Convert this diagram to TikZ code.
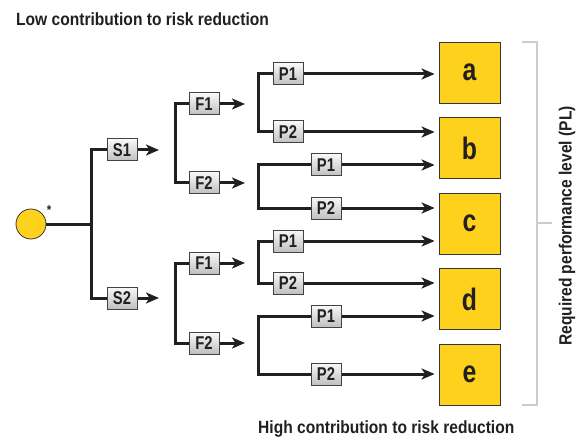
\documentclass[tikz,border=0pt]{standalone}
\usepackage{fontspec}
\setmainfont{Liberation Sans}[FakeStretch=0.88]
\newfontfamily\lblfont{Liberation Sans}[FakeStretch=0.8]
\usetikzlibrary{arrows.meta}
\definecolor{ink}{RGB}{35,31,32}
\definecolor{gold}{RGB}{254,210,28}
\definecolor{bracketgray}{RGB}{204,204,204}
\begin{document}
\begin{tikzpicture}[x=1pt,y=-1pt,
  ln/.style={draw=ink,line width=3pt},
  arr/.style={ln,-{Stealth[length=13pt,width=11pt,inset=3.5pt]}},
  gbox/.style={draw=ink!85,line width=1pt,top color=gray!5,bottom color=gray!50,
     minimum width=30pt,minimum height=22pt,inner sep=0pt,
     font=\lblfont\fontsize{18.5}{18.5}\selectfont\bfseries,text=ink},
  ybox/.style={draw=ink!90,line width=0.8pt,fill=gold,minimum size=61pt,inner sep=0pt,
     font=\lblfont\fontsize{31}{31}\selectfont\bfseries,text=ink},
  title/.style={font=\fontsize{17.7}{17.7}\selectfont\bfseries,text=ink,inner sep=0pt}
]
\useasboundingbox (0,0) rectangle (585,438);

% titles
\node[title,anchor=base west] (low) at (16,26) {Low contribution to risk reduction};
\node[title,anchor=base west] (high) at (258,433) {High contribution to risk reduction};

% result boxes
\node[ybox] (a) at (469.5,72.5) {a};
\node[ybox] (b) at (469.5,148) {b};
\node[ybox] (c) at (469.5,223.5) {c};
\node[ybox] (d) at (469.5,299) {d};
\node[ybox] (e) at (469.5,374.5) {e};

% bracket
\coordinate (bt) at (522,42);
\coordinate (bb) at (522,405);
\coordinate (bm) at (552,223);
\draw[bracketgray,line width=2.5pt] (bt) -- ++(15,0) coordinate (btr) -- (btr |- bb) -- (bb);
\draw[bracketgray,line width=2.5pt] (bm -| btr) -- (bm);
\node[title,rotate=90] (pl) at (567,226) {Required performance level (PL)};

% root
\node[circle,draw=ink!90,line width=0.8pt,fill=gold,minimum size=30pt,inner sep=0pt] (root) at (31,224) {};
\node[font=\fontsize{13}{13}\selectfont\bfseries,text=ink,inner sep=0pt] (star) at (49,210) {*};
\coordinate (j0) at (91,224);
\draw[ln] (root) -- (j0);

% S level
\node[gbox] (s1) at (122,150) {S1};
\node[gbox] (s2) at (122,298) {S2};
\draw[ln] (s1) -| (j0) |- (s2);
\coordinate (s1e) at (159,150);
\coordinate (s2e) at (159,298);
\draw[arr] (s1) -- (s1e);
\draw[arr] (s2) -- (s2e);

% F level
\node[gbox] (f1a) at (204,104) {F1};
\node[gbox] (f2a) at (204,183) {F2};
\node[gbox] (f1b) at (204,263) {F1};
\node[gbox] (f2b) at (204,343) {F2};
\coordinate (ja) at (175,143);
\coordinate (jb) at (175,303);
\draw[ln] (f1a) -| (ja) |- (f2a);
\draw[ln] (f1b) -| (jb) |- (f2b);
\coordinate (f1ae) at (245,104);
\coordinate (f2ae) at (245,183);
\coordinate (f1be) at (245,263);
\coordinate (f2be) at (245,343);
\draw[arr] (f1a) -- (f1ae);
\draw[arr] (f2a) -- (f2ae);
\draw[arr] (f1b) -- (f1be);
\draw[arr] (f2b) -- (f2be);

% P level
\node[gbox] (pa1) at (288,74) {P1};
\node[gbox] (pa2) at (288,132) {P2};
\node[gbox] (pb1) at (326,165) {P1};
\node[gbox] (pb2) at (326,208) {P2};
\node[gbox] (pc1) at (288,241) {P1};
\node[gbox] (pc2) at (288,283) {P2};
\node[gbox] (pd1) at (326,316) {P1};
\node[gbox] (pd2) at (326,374) {P2};
\coordinate (jpa) at (258,100);
\coordinate (jpb) at (258,185);
\coordinate (jpc) at (258,260);
\coordinate (jpd) at (258,344);
\draw[ln] (pa1) -| (jpa) |- (pa2);
\draw[ln] (pb1) -| (jpb) |- (pb2);
\draw[ln] (pc1) -| (jpc) |- (pc2);
\draw[ln] (pd1) -| (jpd) |- (pd2);

\draw[arr,shorten >=4pt] (pa1) -- (pa1 -| a.west);
\draw[arr,shorten >=4pt] (pa2) -- (pa2 -| b.west);
\draw[arr,shorten >=4pt] (pb1) -- (pb1 -| b.west);
\draw[arr,shorten >=4pt] (pb2) -- (pb2 -| c.west);
\draw[arr,shorten >=4pt] (pc1) -- (pc1 -| c.west);
\draw[arr,shorten >=4pt] (pc2) -- (pc2 -| d.west);
\draw[arr,shorten >=4pt] (pd1) -- (pd1 -| d.west);
\draw[arr,shorten >=4pt] (pd2) -- (pd2 -| e.west);
\end{tikzpicture}
\end{document}
